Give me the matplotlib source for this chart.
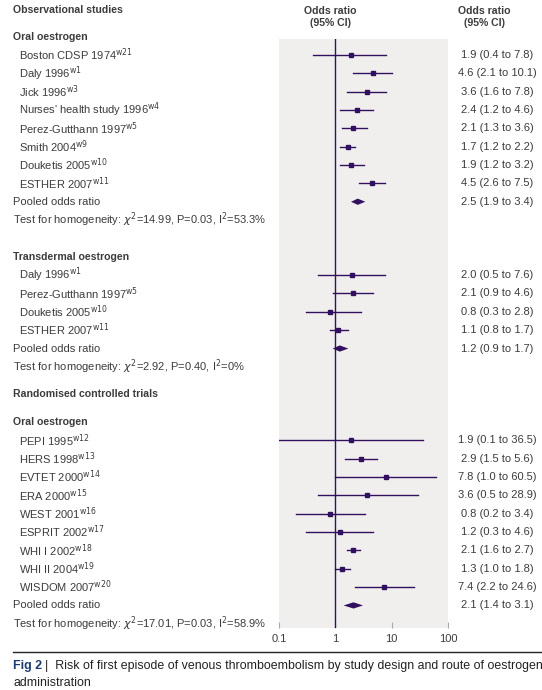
import matplotlib
matplotlib.use("Agg")
import matplotlib.pyplot as plt
import matplotlib.transforms as mtransforms
import numpy as np

plt.rcParams['font.family'] = ['Liberation Sans Narrow', 'Liberation Sans', 'DejaVu Sans']
plt.rcParams['mathtext.fontset'] = 'custom'
plt.rcParams['mathtext.rm'] = 'Liberation Sans Narrow'
plt.rcParams['mathtext.it'] = 'Liberation Sans Narrow:italic'
plt.rcParams['mathtext.bf'] = 'Liberation Sans Narrow:bold'

# --- data ---
obs_oral_names = ["Boston CDSP 1974$^{\\rm w21}$", "Daly 1996$^{\\rm w1}$", "Jick 1996$^{\\rm w3}$",
                  "Nurses' health study 1996$^{\\rm w4}$", "Perez-Gutthann 1997$^{\\rm w5}$",
                  "Smith 2004$^{\\rm w9}$", "Douketis 2005$^{\\rm w10}$", "ESTHER 2007$^{\\rm w11}$"]
obs_oral_or = [1.9, 4.6, 3.6, 2.4, 2.1, 1.7, 1.9, 4.5]
obs_oral_lo = [0.4, 2.1, 1.6, 1.2, 1.3, 1.2, 1.2, 2.6]
obs_oral_hi = [7.8, 10.1, 7.8, 4.6, 3.6, 2.2, 3.2, 7.5]
obs_oral_pooled = (2.5, 1.9, 3.4)
obs_oral_test = "Test for homogeneity: $\\chi^2$=14.99, P=0.03, I$^2$=53.3%"

trans_names = ["Daly 1996$^{\\rm w1}$", "Perez-Gutthann 1997$^{\\rm w5}$",
               "Douketis 2005$^{\\rm w10}$", "ESTHER 2007$^{\\rm w11}$"]
trans_or = [2.0, 2.1, 0.8, 1.1]
trans_lo = [0.5, 0.9, 0.3, 0.8]
trans_hi = [7.6, 4.6, 2.8, 1.7]
trans_pooled = (1.2, 0.9, 1.7)
trans_test = "Test for homogeneity: $\\chi^2$=2.92, P=0.40, I$^2$=0%"

rct_names = ["PEPI 1995$^{\\rm w12}$", "HERS 1998$^{\\rm w13}$", "EVTET 2000$^{\\rm w14}$",
             "ERA 2000$^{\\rm w15}$", "WEST 2001$^{\\rm w16}$", "ESPRIT 2002$^{\\rm w17}$",
             "WHI I 2002$^{\\rm w18}$", "WHI II 2004$^{\\rm w19}$", "WISDOM 2007$^{\\rm w20}$"]
rct_or = [1.9, 2.9, 7.8, 3.6, 0.8, 1.2, 2.1, 1.3, 7.4]
rct_lo = [0.1, 1.5, 1.0, 0.5, 0.2, 0.3, 1.6, 1.0, 2.2]
rct_hi = [36.5, 5.6, 60.5, 28.9, 3.4, 4.6, 2.7, 1.8, 24.6]
rct_pooled = (2.1, 1.4, 3.1)
rct_test = "Test for homogeneity: $\\chi^2$=17.01, P=0.03, I$^2$=58.9%"

x_ticks = [0.1, 1, 10, 100]
x_tick_labels = ["0.1", "1", "10", "100"]

purple = "#33105f"
text_col = "#3c3c3c"
panel_col = "#f0efee"

W, H = 542, 690
fig = plt.figure(figsize=(W / 100, H / 100), dpi=100)
ax = fig.add_axes([279 / W, 1 - 628 / H, (448 - 279) / W, (628 - 39) / H])
ax.set_facecolor(panel_col)
ax.set_xscale('log')
ax.set_xlim(0.1, 100)
ax.set_ylim(31.23, -0.87)
for s in ax.spines.values():
    s.set_visible(False)
ax.set_yticks([])
ax.set_xticks(x_ticks)
ax.set_xticklabels(x_tick_labels)
ax.xaxis.set_minor_locator(matplotlib.ticker.NullLocator())
ax.tick_params(axis='x', direction='in', length=4, color='#aaaaaa', labelsize=8,
               labelcolor=text_col, pad=4)
ax.axvline(1, color=purple, lw=1)

trans = mtransforms.blended_transform_factory(fig.transFigure, ax.transData)
fs = 8.0
fs_head = 7.6
x_head = 13 / W
x_study = 19 / W
x_val = 497 / W


def fmt(o, lo, hi):
    return f"{o:.1f} ({lo:.1f} to {hi:.1f})"


def draw_group(start, names, ors, los, his, pooled, test):
    row = start
    for n, o, lo, hi in zip(names, ors, los, his):
        ax.plot([lo, hi], [row, row], color=purple, lw=1)
        ax.plot(o, row, marker='s', ms=2.5, color=purple)
        fig.text(x_study, row, n, transform=trans, fontsize=fs, color=text_col, va='center')
        fig.text(x_val, row, fmt(o, lo, hi), transform=trans, fontsize=fs, color=text_col,
                 va='center', ha='center')
        row += 1
    o, lo, hi = pooled
    ax.fill([lo, o, hi, o], [row, row - 0.17, row, row + 0.17], color=purple, lw=0)
    fig.text(x_head, row, "Pooled odds ratio", transform=trans, fontsize=fs, color=text_col, va='center')
    fig.text(x_val, row, fmt(o, lo, hi), transform=trans, fontsize=fs, color=text_col,
             va='center', ha='center')
    row += 1
    fig.text(x_head, row, test, transform=trans, fontsize=fs, color=text_col, va='center')


def header(row, txt):
    fig.text(x_head, row, txt, transform=trans, fontsize=fs_head, color=text_col, va='center',
             fontweight='bold')


header(-2.45, "Observational studies")
header(-1, "Oral oestrogen")
draw_group(0, obs_oral_names, obs_oral_or, obs_oral_lo, obs_oral_hi, obs_oral_pooled, obs_oral_test)
header(11, "Transdermal oestrogen")
draw_group(12, trans_names, trans_or, trans_lo, trans_hi, trans_pooled, trans_test)
header(18.5, "Randomised controlled trials")
header(20, "Oral oestrogen")
draw_group(21, rct_names, rct_or, rct_lo, rct_hi, rct_pooled, rct_test)

fig.text(330 / W, 1 - 17 / H, "Odds ratio\n(95% CI)", fontsize=fs_head, color=text_col,
         fontweight='bold', ha='center', va='center', linespacing=1.25)
fig.text(484 / W, 1 - 17 / H, "Odds ratio\n(95% CI)", fontsize=fs_head, color=text_col,
         fontweight='bold', ha='center', va='center', linespacing=1.25)

# caption
fig.add_artist(plt.Line2D([13 / W, 1], [1 - 652 / H, 1 - 652 / H], color='#222222', lw=1))
fig.text(13 / W, 1 - 666 / H, "Fig 2", fontsize=8.9, color='#1f3b6e', fontweight='bold', va='center')
fig.text(45 / W, 1 - 666 / H, "|  Risk of first episode of venous thromboembolism by study design and route of oestrogen",
         fontsize=8.9, color='#222222', va='center')
fig.text(13 / W, 1 - 683 / H, "administration", fontsize=8.9, color='#222222', va='center')

fig.savefig("out.png", dpi=100)
